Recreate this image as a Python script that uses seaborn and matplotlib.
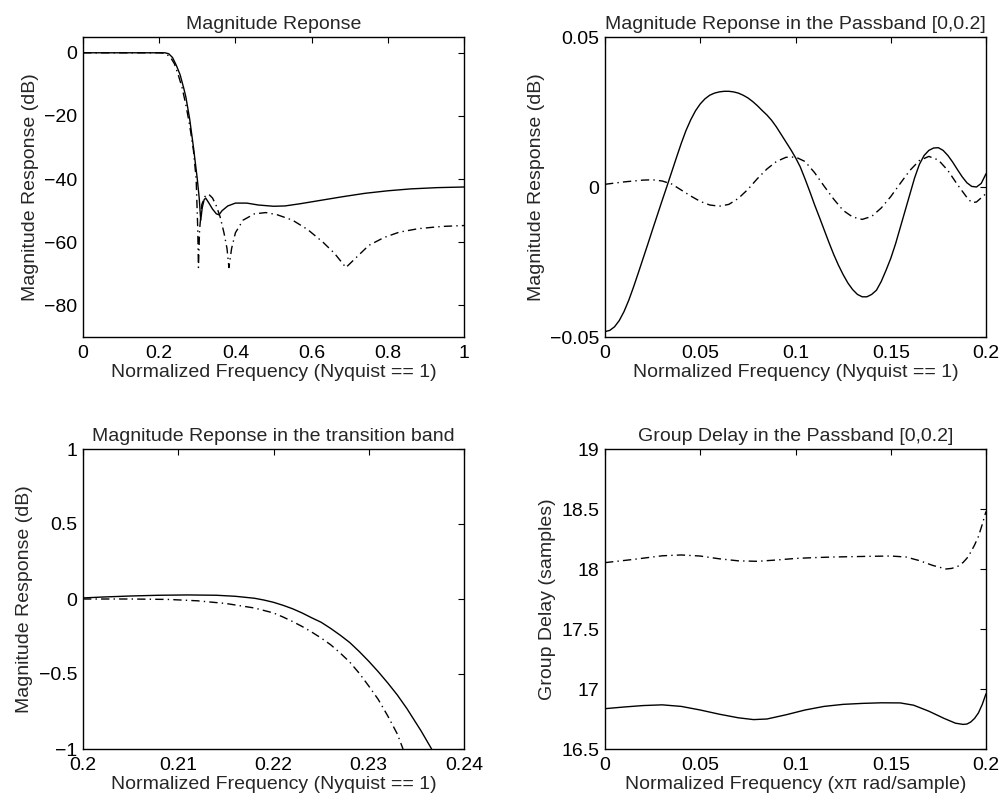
import numpy as np
import pandas as pd
import matplotlib
matplotlib.use("Agg")
import matplotlib.pyplot as plt
import seaborn as sns

# ---------------- data ----------------
# Top-left: full magnitude response
full_f_a = [0, 0.1, 0.2, 0.215, 0.225, 0.235, 0.245, 0.255, 0.265, 0.27, 0.28, 0.29, 0.3,
            0.305, 0.309, 0.313, 0.318, 0.322, 0.33, 0.34, 0.35, 0.357, 0.365, 0.38, 0.4,
            0.43, 0.46, 0.5, 0.53, 0.57, 0.62, 0.68, 0.74, 0.8, 0.86, 0.93, 1.0]
full_db_a = [0, 0, 0, 0, -0.3, -1.5, -4, -7, -11.5, -14, -21, -30, -40,
             -46, -53, -49, -46.5, -46, -47.5, -49.5, -51, -51.3, -50, -48.5, -47.6,
             -47.6, -48.2, -48.6, -48.5, -47.8, -46.8, -45.6, -44.5, -43.7, -43.1, -42.7, -42.5]
full_f_b = [0, 0.2, 0.21, 0.22, 0.23, 0.24, 0.25, 0.26, 0.27, 0.28, 0.29, 0.297, 0.301, 0.303,
            0.306, 0.312, 0.32, 0.33, 0.34, 0.35, 0.36, 0.37, 0.378, 0.383, 0.39, 0.40, 0.42,
            0.45, 0.48, 0.51, 0.55, 0.59, 0.63, 0.66, 0.69, 0.72, 0.75, 0.79, 0.83, 0.88, 0.94, 1.0]
full_db_b = [0, 0, -0.1, -0.5, -1.5, -3.5, -7, -11, -16.5, -23, -31, -40, -55, -68,
             -56, -48, -45.5, -44.8, -46, -48.5, -52, -57, -62, -68, -62, -57, -53,
             -51, -50.6, -51.3, -53, -56, -60, -63.5, -68, -64.5, -61, -58.5, -56.8, -55.7, -55.0, -54.7]

# Top-right: passband magnitude
pb_f_a = [0.0, 0.0025, 0.005, 0.0075, 0.01, 0.0125, 0.015, 0.0175, 0.02, 0.0225, 0.025, 0.0275,
          0.03, 0.0325, 0.035, 0.0375, 0.04, 0.0425, 0.045, 0.0475, 0.05, 0.0525, 0.055, 0.0575,
          0.06, 0.0625, 0.065, 0.0675, 0.07, 0.0725, 0.075, 0.0775, 0.08, 0.0825, 0.085, 0.0875,
          0.09, 0.0925, 0.095, 0.0975, 0.1, 0.1025, 0.105, 0.1075, 0.11, 0.1125, 0.115, 0.1175,
          0.12, 0.1225, 0.125, 0.1275, 0.13, 0.1325, 0.135, 0.1375, 0.14, 0.1425, 0.145, 0.1475,
          0.15, 0.1525, 0.155, 0.1575, 0.16, 0.1625, 0.165, 0.1675, 0.17, 0.1725, 0.175, 0.1775,
          0.18, 0.1825, 0.185, 0.1875, 0.19, 0.1925, 0.195, 0.1975, 0.2]
pb_db_a = [-0.0482, -0.0478, -0.0466, -0.0445, -0.0415, -0.0377, -0.0333, -0.0286, -0.0238,
           -0.0190, -0.0141, -0.0093, -0.0045, 0.0002, 0.0050, 0.0098, 0.0145, 0.0188, 0.0224,
           0.0254, 0.0277, 0.0294, 0.0306, 0.0313, 0.0317, 0.0319, 0.0319, 0.0317, 0.0313, 0.0306,
           0.0297, 0.0285, 0.0271, 0.0255, 0.0240, 0.0222, 0.0200, 0.0175, 0.0150, 0.0125, 0.0098,
           0.0067, 0.0027, -0.0015, -0.0059, -0.0100, -0.0142, -0.0184, -0.0224, -0.0260, -0.0292,
           -0.0320, -0.0342, -0.0358, -0.0366, -0.0366, -0.0358, -0.0344, -0.0315, -0.0278,
           -0.0238, -0.0190, -0.0135, -0.0080, -0.0025, 0.0030, 0.0075, 0.0105, 0.0122, 0.0130,
           0.0131, 0.0122, 0.0105, 0.0083, 0.0058, 0.0034, 0.0014, 0.0002, 0.0000, 0.0012, 0.0044]
pb_f_b = [0.0, 0.005, 0.01, 0.015, 0.02, 0.025, 0.03, 0.035, 0.04, 0.045, 0.05, 0.055, 0.06,
          0.065, 0.07, 0.075, 0.08, 0.085, 0.09, 0.095, 0.1, 0.105, 0.11, 0.115, 0.12, 0.125,
          0.13, 0.135, 0.14, 0.145, 0.15, 0.155, 0.16, 0.165, 0.17, 0.175, 0.18, 0.185, 0.19,
          0.1925, 0.195, 0.2]
pb_db_b = [0.0009, 0.0013, 0.0017, 0.0020, 0.0023, 0.0024, 0.0020, 0.0010, -0.0010, -0.0030,
           -0.0048, -0.0060, -0.0064, -0.0058, -0.0038, -0.0008, 0.0028, 0.0060, 0.0085, 0.0099,
           0.0100, 0.0085, 0.0048, 0.0003, -0.0040, -0.0078, -0.0100, -0.0108, -0.0098, -0.0070,
           -0.0032, 0.0012, 0.0055, 0.0088, 0.0102, 0.0090, 0.0055, 0.0008, -0.0035, -0.0052,
           -0.0050, -0.0022]

# Bottom-left: transition band
tb_f_a = [0.2, 0.202, 0.205, 0.208, 0.211, 0.214, 0.216, 0.218, 0.219, 0.22, 0.221, 0.222,
          0.223, 0.224, 0.225, 0.226, 0.227, 0.228, 0.229, 0.23, 0.231, 0.232, 0.233, 0.234,
          0.235, 0.2355, 0.2366]
tb_db_a = [0.007, 0.013, 0.02, 0.025, 0.027, 0.025, 0.018, 0.005, -0.007, -0.022, -0.042, -0.065,
           -0.093, -0.125, -0.155, -0.196, -0.241, -0.29, -0.35, -0.415, -0.485, -0.56, -0.64,
           -0.73, -0.83, -0.88, -1.0]
tb_f_b = [0.2, 0.205, 0.209, 0.212, 0.215, 0.218, 0.22, 0.221, 0.222, 0.223, 0.224, 0.225,
          0.226, 0.227, 0.228, 0.229, 0.23, 0.231, 0.232, 0.233, 0.2336]
tb_db_b = [0, 0, -0.003, -0.012, -0.03, -0.06, -0.093, -0.12, -0.15, -0.183, -0.22, -0.26,
           -0.305, -0.36, -0.42, -0.495, -0.58, -0.67, -0.78, -0.9, -1.0]

# Bottom-right: group delay
gd_f_a = [0, 0.01, 0.02, 0.03, 0.04, 0.05, 0.06, 0.07, 0.078, 0.085, 0.095, 0.105, 0.115, 0.125,
          0.135, 0.145, 0.155, 0.162, 0.17, 0.178, 0.184, 0.188, 0.19, 0.192, 0.194, 0.196,
          0.198, 0.2]
gd_a = [16.836, 16.85, 16.862, 16.868, 16.855, 16.825, 16.79, 16.76, 16.745, 16.75, 16.785,
        16.825, 16.855, 16.872, 16.88, 16.885, 16.884, 16.865, 16.815, 16.755, 16.715, 16.705,
        16.708, 16.725, 16.755, 16.8, 16.87, 16.96]
gd_f_b = [0, 0.015, 0.03, 0.04, 0.05, 0.06, 0.07, 0.08, 0.09, 0.1, 0.11, 0.12, 0.13, 0.14, 0.15,
          0.158, 0.165, 0.172, 0.179, 0.182, 0.185, 0.188, 0.19, 0.192, 0.194, 0.196, 0.198, 0.2]
gd_b = [18.053, 18.08, 18.11, 18.117, 18.108, 18.085, 18.068, 18.064, 18.075, 18.088, 18.095,
        18.1, 18.103, 18.106, 18.108, 18.1, 18.07, 18.03, 18.0, 18.005, 18.02, 18.055, 18.09,
        18.14, 18.2, 18.27, 18.37, 18.48]

# tick labels
tl_x_ticks = [0, 0.2, 0.4, 0.6, 0.8, 1]
tl_x_labels = ["0", "0.2", "0.4", "0.6", "0.8", "1"]
tl_y_ticks = [-80, -60, -40, -20, 0]
tl_y_labels = ["\u221280", "\u221260", "\u221240", "\u221220", "0"]
pb_x_ticks = [0, 0.05, 0.1, 0.15, 0.2]
pb_x_labels = ["0", "0.05", "0.1", "0.15", "0.2"]
tr_y_ticks = [-0.05, 0, 0.05]
tr_y_labels = ["\u22120.05", "0", "0.05"]
bl_x_ticks = [0.2, 0.21, 0.22, 0.23, 0.24]
bl_x_labels = ["0.2", "0.21", "0.22", "0.23", "0.24"]
bl_y_ticks = [-1, -0.5, 0, 0.5, 1]
bl_y_labels = ["\u22121", "\u22120.5", "0", "0.5", "1"]
br_y_ticks = [16.5, 17, 17.5, 18, 18.5, 19]
br_y_labels = ["16.5", "17", "17.5", "18", "18.5", "19"]

titles = ["Magnitude Reponse", "Magnitude Reponse in the Passband [0,0.2]",
          "Magnitude Reponse in the transition band", "Group Delay in the Passband [0,0.2]"]
xlabels = ["Normalized Frequency (Nyquist == 1)", "Normalized Frequency (Nyquist == 1)",
           "Normalized Frequency (Nyquist == 1)", "Normalized Frequency (x\u03c0 rad/sample)"]
ylabels = ["Magnitude Response (dB)", "Magnitude Response (dB)",
           "Magnitude Response (dB)", "Group Delay (samples)"]

# ---------------- style ----------------
sns.set_style("white")
plt.rcParams["font.family"] = ["Liberation Sans", "DejaVu Sans"]
plt.rcParams.update({
    "xtick.direction": "in", "ytick.direction": "in",
    "xtick.top": True, "ytick.right": True,
    "xtick.major.size": 4, "ytick.major.size": 4,
    "xtick.major.width": 0.8, "ytick.major.width": 0.8,
    "axes.linewidth": 1.0, "axes.edgecolor": "black",
    "xtick.color": "black", "ytick.color": "black",
})
FS = 14

fig = plt.figure(figsize=(10.05, 8.08), dpi=100)
W, H = 1005.0, 808.0
def pos(x0, x1, y0, y1):
    return [x0 / W, 1 - y1 / H, (x1 - x0) / W, (y1 - y0) / H]

axes = [fig.add_axes(pos(83, 464, 37, 337)), fig.add_axes(pos(605, 986, 37, 337)),
        fig.add_axes(pos(83, 464, 449, 749)), fig.add_axes(pos(605, 986, 449, 749))]

DASHDOT = (0, (6, 3, 1, 3))
series = [
    ((full_f_a, full_db_a), (full_f_b, full_db_b)),
    ((pb_f_a, pb_db_a), (pb_f_b, pb_db_b)),
    ((tb_f_a, tb_db_a), (tb_f_b, tb_db_b)),
    ((gd_f_a, gd_a), (gd_f_b, gd_b)),
]
for ax, (sa, sb) in zip(axes, series):
    dfa = pd.DataFrame({"f": sa[0], "v": sa[1]})
    dfb = pd.DataFrame({"f": sb[0], "v": sb[1]})
    sns.lineplot(data=dfa, x="f", y="v", ax=ax, color="black", linewidth=1.0,
                 estimator=None, linestyle="-")
    sns.lineplot(data=dfb, x="f", y="v", ax=ax, color="black", linewidth=1.0,
                 estimator=None, linestyle=DASHDOT)

limits = [((0, 1), (-90, 5)), ((0, 0.2), (-0.05, 0.05)), ((0.2, 0.24), (-1, 1)), ((0, 0.2), (16.5, 19))]
xt = [(tl_x_ticks, tl_x_labels), (pb_x_ticks, pb_x_labels), (bl_x_ticks, bl_x_labels), (pb_x_ticks, pb_x_labels)]
yt = [(tl_y_ticks, tl_y_labels), (tr_y_ticks, tr_y_labels), (bl_y_ticks, bl_y_labels), (br_y_ticks, br_y_labels)]

for i, ax in enumerate(axes):
    ax.set_xlim(*limits[i][0])
    ax.set_ylim(*limits[i][1])
    ax.set_xticks(xt[i][0])
    ax.set_xticklabels(xt[i][1], fontsize=FS)
    ax.set_yticks(yt[i][0])
    ax.set_yticklabels(yt[i][1], fontsize=FS)
    ax.tick_params(axis="x", which="both", pad=6)
    ax.tick_params(axis="y", which="both", pad=4)
    ax.set_title(titles[i], fontsize=FS, pad=6)
    ax.set_xlabel(xlabels[i], fontsize=FS, labelpad=1)
    ax.set_ylabel(ylabels[i], fontsize=FS, labelpad=4)
    for s in ax.spines.values():
        s.set_visible(True)
        s.set_color("black")

fig.savefig("out.png", dpi=100, facecolor="white")
